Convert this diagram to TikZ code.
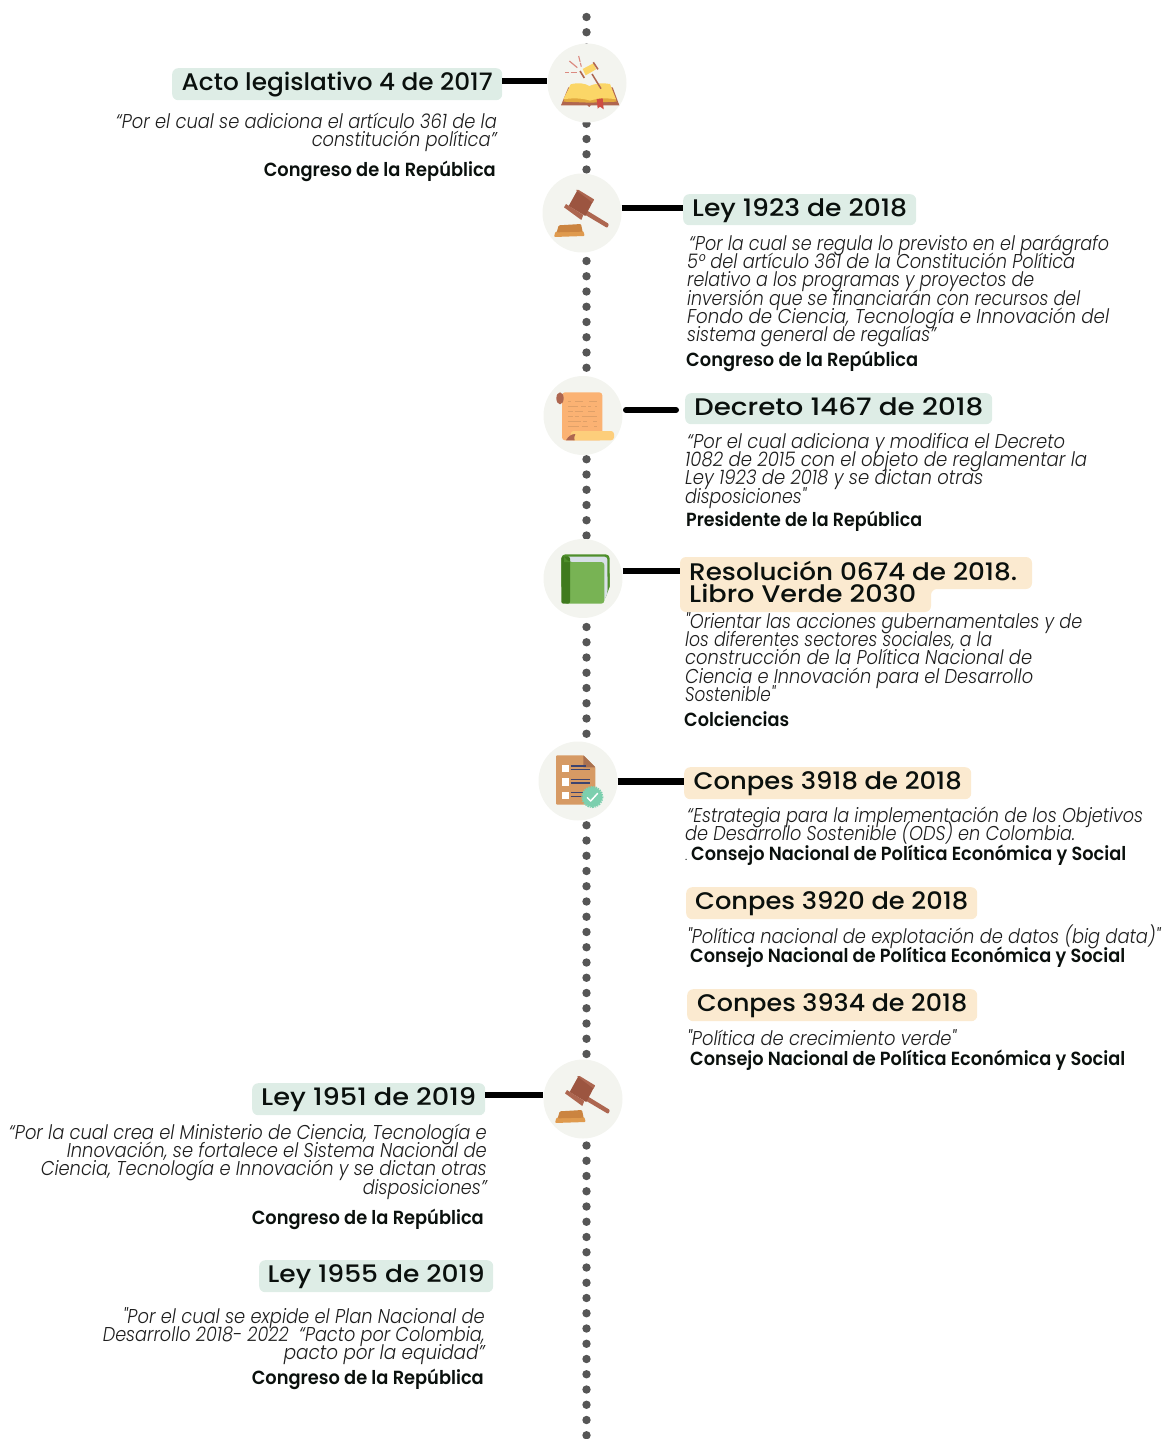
\documentclass[tikz,border=0pt]{standalone}
\usepackage{fontspec}
\usepackage{graphicx}
\setmainfont{Poppins}[Ligatures=TeXOff,UprightFont=* Medium,ItalicFont=* Light Italic]
\newfontfamily\autorfont{Poppins}[Ligatures=TeXOff,UprightFont=* SemiBold]
\lineskiplimit=-100pt\relax
\newcommand{\fl}[2]{\rule{0pt}{18pt}\resizebox{#1pt}{\height}{#2}}
\newcommand{\tl}[2]{\rule[-7pt]{0pt}{27pt}\resizebox{#1pt}{\height}{#2}}
\definecolor{pgreen}{HTML}{DEEDE6}
\definecolor{porange}{HTML}{FBEAD0}
\definecolor{cbg}{HTML}{F3F4EF}
\definecolor{dotc}{HTML}{565656}
\definecolor{ink}{HTML}{0A100D}
\definecolor{soft}{HTML}{1E1E1E}
\definecolor{gvh}{HTML}{9C5540}
\definecolor{gvd}{HTML}{AD6650}
\definecolor{gvo}{HTML}{DF9A4E}
\definecolor{gvp}{HTML}{CB8440}
\definecolor{bkb}{HTML}{B0664F}
\definecolor{bky}{HTML}{FBD667}
\definecolor{bkd}{HTML}{E2A93F}
\definecolor{bkr}{HTML}{CF4C42}
\definecolor{ray}{HTML}{DB8A80}
\definecolor{scb}{HTML}{FBB273}
\definecolor{scy}{HTML}{FDCE7B}
\definecolor{scl}{HTML}{DFA068}
\definecolor{gd}{HTML}{3F7A1E}
\definecolor{gm}{HTML}{4F8F2C}
\definecolor{gl}{HTML}{78B354}
\definecolor{pg}{HTML}{D8E0E8}
\definecolor{doc}{HTML}{D69A64}
\definecolor{docf}{HTML}{A9704F}
\definecolor{docl}{HTML}{3D4470}
\definecolor{chk}{HTML}{7CCFAE}
\tikzset{
  pill/.style={rounded corners=6pt,inner sep=0pt,text=ink,font=\fontsize{24}{24}\selectfont,anchor=north west},
  hoja/.style={circle,fill=cbg,minimum size=79pt,inner sep=0pt},
  conn/.style={line width=6pt,black},
  puntos/.style={dotc,line width=8.4pt,line cap=round,dash pattern=on 0pt off 15.25pt},
  cita/.style={inner sep=0pt,text=soft,align=left,anchor=north west,font=\fontsize{20}{18.35}\selectfont\itshape},
  citar/.style={inner sep=0pt,text=soft,align=right,anchor=north east,font=\fontsize{20}{18.35}\selectfont\itshape},
  autor/.style={inner sep=0pt,text=ink,font=\fontsize{19}{20}\autorfont\selectfont,anchor=base west},
  autorr/.style={inner sep=0pt,text=ink,font=\fontsize{19}{20}\autorfont\selectfont,anchor=base east}
}
\newcommand{\ptitle}[7]{% name, color, x1, y1, w, h, text
  \node[pill,fill=#2,minimum width=#5pt,minimum height=#6pt] (#1) at (#3,#4) {#7};}
\newcommand{\gavelicon}{%
  \fill[gvo,rounded corners=1pt] (162,711) -- (166,695) -- (250,693) -- (254,708) -- cycle;
  \fill[gvp,rounded corners=1pt] (176,676) -- (243,672) -- (248,695) -- (170,697) -- cycle;
  \fill[gvd,rounded corners=1pt] (255,628) -- (327,672) -- (322,684) -- (248,640) -- cycle;
  \fill[gvh] (232,571) -- (281,600) -- (256,648) -- (206,618) -- cycle;
  \fill[gvd] (228,570) -- (236,570) -- (282,598) -- (278,608) -- cycle;
  \fill[gvd] (192,622) -- (198,612) -- (250,645) -- (244,660) -- cycle;
}
\begin{document}
\begin{tikzpicture}[x=1pt,y=-1pt]
\useasboundingbox (0,0) rectangle (1162,1439);
\coordinate (top) at (586.5,17);
\coordinate (bottom) at (586.5,1436);
\draw[puntos] (top) -- (bottom);

% circles
\node[hoja] (c1) at (587,83) {};
\node[hoja] (c2) at (582,213) {};
\node[hoja] (c3) at (583,415.5) {};
\node[hoja] (c4) at (583,578.5) {};
\node[hoja] (c5) at (578,781) {};
\node[hoja] (c6) at (583,1099) {};

% pills
\ptitle{p1}{pgreen}{172}{68}{330}{32}{\tl{311}{Acto legislativo 4 de 2017}}
\ptitle{p2}{pgreen}{683}{194}{233}{31}{\tl{215}{Ley 1923 de 2018}}
\ptitle{p3}{pgreen}{685}{393}{307}{31}{\tl{289}{Decreto 1467 de 2018}}
\fill[porange,rounded corners=6pt] (680,557) -- (1032,557) -- (1032,589) -- (931,589) -- (931,612) -- (680,612) -- cycle;
\node[inner sep=0pt,text=ink,align=left,anchor=north west,font=\fontsize{24}{22.3}\selectfont] (p4) at (689,557)
  {\rule{0pt}{23pt}\resizebox{328pt}{\height}{Resolución 0674 de 2018.}\\\resizebox{227pt}{\height}{Libro Verde 2030}};
\ptitle{p5}{porange}{684}{767}{287}{32}{\tl{268}{Conpes 3918 de 2018}}
\ptitle{p6}{porange}{686}{887}{291}{32}{\tl{273}{Conpes 3920 de 2018}}
\ptitle{p7}{porange}{687}{989}{290}{32}{\tl{270}{Conpes 3934 de 2018}}
\ptitle{p8}{pgreen}{252}{1083}{233}{32}{\tl{215}{Ley 1951 de 2019}}
\ptitle{p9}{pgreen}{259}{1260}{234}{32}{\tl{217}{Ley 1955 de 2019}}

% connectors
\coordinate (k3a) at (626,410);
\coordinate (k3b) at (676,410);
\draw[conn] (p1.east |- 0,81) -- (c1.west |- 0,81);
\draw[conn] (c2.east |- 0,208) -- (p2.west |- 0,208);
\draw[conn,line cap=round] (k3a) -- (k3b);
\draw[conn] (c4.east |- 0,571) -- (680,571);
\draw[conn,line width=7pt] (c5.east |- 0,781) -- (p5.west |- 0,781);
\draw[conn] (p8.east |- 0,1095) -- (c6.west |- 0,1095);

% icon 1: book with gavel
\begin{scope}[shift={(500,0)},scale=1/3]
  \fill[bkb] (183,316) -- (205,262) -- (338,262) -- (358,316) -- (272,316) -- (268,321) -- (262,316) -- cycle;
  \fill[bkd] (190,305) -- (212,256) -- (265,262) -- (330,256) -- (350,305) -- (270,308) -- cycle;
  \fill[bky] (190,298) -- (212,253) .. controls (235,247) and (255,250) .. (268,258) .. controls (285,250) and (310,248) .. (330,252) -- (348,298) .. controls (320,293) and (290,295) .. (270,302) .. controls (250,295) and (220,293) .. (190,298) -- cycle;
  \fill[bkr] (290,297) -- (308,295) -- (311,328) -- (300,320) -- (293,326) -- cycle;
  \draw[gvd,line width=1.5pt] (276,222) -- (303,266);
  \fill[bky] (248,207) -- (280,190) -- (288,208) -- (257,226) -- cycle;
  \draw[bkb,line width=1.6pt] (240,213) -- (253,234);
  \draw[bkb,line width=1.6pt] (280,187) -- (294,208);
  \draw[ray,line width=1.2pt] (208,183) -- (232,203);
  \draw[ray,line width=1.1pt,dash pattern=on 6pt off 1pt] (236,168) -- (244,200);
  \draw[ray,line width=1.1pt] (195,218) -- (207,218) (212,218) -- (230,218);
\end{scope}

% icon 2: gavel
\begin{scope}[shift={(500,0)},scale=1/3]
  \gavelicon
\end{scope}

% icon 3: scroll
\begin{scope}[shift={(500,360)},scale=1/3]
  \fill[scb,rounded corners=3pt] (186,97) rectangle (307,241);
  \fill[gvd] (180,115) ellipse (11 and 18);
  \fill[scy,rounded corners=3pt] (212,213) rectangle (342,241);
  \fill[gvd] (198,241) .. controls (205,228) and (215,222) .. (226,222) .. controls (222,232) and (222,238) .. (224,241) -- cycle;
  \foreach \ya/\xa/\xb in {124/205/212,124/226/250,124/268/292,138/205/234,138/244/258,138/265/272,138/285/292,153/205/218,153/224/250,153/265/285,168/205/218,168/224/236,168/245/292,183/205/242,183/250/260,183/280/292,198/205/238,198/245/265,198/282/292}
    {\draw[scl,line width=1pt] (\xa,\ya) -- (\xb,\ya);}
\end{scope}

% icon 4: green book
\begin{scope}[shift={(500,360)},scale=1/3]
  \fill[gm,rounded corners=4pt] (184,583) rectangle (329,690);
  \fill[gm] (318,640) -- (329,640) -- (329,680) -- (316,715) -- cycle;
  \fill[pg,rounded corners=3pt] (198,590) rectangle (322,700);
  \fill[pg] (300,650) -- (322,650) -- (322,700) -- (312,722) -- (300,722) -- cycle;
  \fill[gl,rounded corners=3pt] (192,606) -- (313,606) -- (313,731) -- (192,731) -- cycle;
  \fill[gd,rounded corners=2pt] (184,590) -- (210,590) -- (210,731) -- (184,731) -- cycle;
  \fill[gm] (192,590) .. controls (200,600) and (205,606) .. (215,606) -- (192,606) -- cycle;
\end{scope}

% icon 5: document
\begin{scope}[shift={(500,730)},scale=1/3]
  \fill[doc,rounded corners=1pt] (168,76) -- (250,76) -- (286,112) -- (286,224) -- (168,224) -- cycle;
  \fill[docf] (250,76) -- (286,112) -- (250,112) -- cycle;
  \fill[white] (185,105) rectangle (207,127);
  \fill[white] (185,145) rectangle (207,167);
  \fill[white] (185,185) rectangle (207,207);
  \draw[docl,line width=1.1pt] (212,108) -- (258,108) (212,119) -- (270,119);
  \draw[docl,line width=1.1pt] (212,148) -- (270,148) (212,159) -- (270,159);
  \draw[docl,line width=1.1pt] (212,188) -- (250,188) (212,199) -- (250,199);
  \fill[chk] (277,201) circle (30);
  \draw[chk,line width=1.1pt,dash pattern=on 1.5pt off 1pt] (277,201) circle (31.5);
  \draw[white,line width=1.5pt,line cap=round,line join=round] (262,203) -- (272,213) -- (293,190);
\end{scope}

% icon 6: gavel
\begin{scope}[shift={(501,886)},scale=1/3]
  \gavelicon
\end{scope}

% text blocks
\node[citar] (t1) at (497,110) {\fl{381}{“Por el cual se adiciona el artículo 361 de la}\\\fl{185}{constitución política”}};
\node[autorr] (a1) at (496,177) {\resizebox{232pt}{\height}{Congreso de la República}};

\node[cita] (t2) at (687,232) {\hspace{2pt}\fl{420}{“Por la cual se regula lo previsto en el parágrafo}\\\fl{388}{5° del artículo 361 de la Constitución Política}\\\fl{347}{relativo a los programas y proyectos de}\\\fl{393}{inversión que se financiarán con recursos del}\\\fl{422}{Fondo de Ciencia, Tecnología e Innovación del}\\\fl{249}{sistema general de regalías”}};
\node[autor] (a2) at (686,366) {\resizebox{232pt}{\height}{Congreso de la República}};

\node[cita] (t3) at (685,430) {\hspace{2pt}\fl{378}{“Por el cual adiciona y modifica el Decreto}\\\fl{402}{1082 de 2015 con el objeto de reglamentar la}\\\fl{298}{Ley 1923 de 2018 y se dictan otras}\\\fl{121}{disposiciones"}};
\node[autor] (a3) at (686,526) {\resizebox{236pt}{\height}{Presidente de la República}};

\node[cita] (t4) at (685,610) {\fl{397}{"Orientar las acciones gubernamentales y de}\\\fl{307}{los diferentes sectores sociales, a la}\\\fl{347}{construcción de la Política Nacional de}\\\fl{348}{Ciencia e Innovación para el Desarrollo}\\\fl{90}{Sostenible"}};
\node[autor] (a4) at (684,726) {\resizebox{105pt}{\height}{Colciencias}};

\node[cita] (t5) at (685,804) {\hspace{2pt}\fl{456}{“Estrategia para la implementación de los Objetivos}\\\fl{390}{de Desarrollo Sostenible (ODS) en Colombia.}};
\node[autor,font=\fontsize{9}{10}\selectfont] (dot5) at (685,860) {.};
\node[autor] (a5) at (691,860) {\resizebox{435pt}{\height}{Consejo Nacional de Política Económica y Social}};

\node[cita] (t6) at (687,925) {\fl{473}{"Política nacional de explotación de datos (big data)"}};
\node[autor] (a6) at (690,962) {\resizebox{435pt}{\height}{Consejo Nacional de Política Económica y Social}};

\node[cita] (t7) at (687,1027) {\fl{269}{"Política de crecimiento verde"}};
\node[autor] (a7) at (690,1065) {\resizebox{435pt}{\height}{Consejo Nacional de Política Económica y Social}};

\node[citar] (t8) at (487,1121) {\fl{478}{“Por la cual crea el Ministerio de Ciencia, Tecnología e}\\\fl{420}{Innovación, se fortalece el Sistema Nacional de}\\\fl{446}{Ciencia, Tecnología e Innovación y se dictan otras}\\\fl{124}{disposiciones”}};
\node[autorr] (a8) at (484,1224) {\resizebox{232pt}{\height}{Congreso de la República}};

\node[citar] (t9) at (485,1305) {\fl{362}{"Por el cual se expide el Plan Nacional de}\\\fl{382}{Desarrollo 2018- 2022~ “Pacto por Colombia,}\\\fl{201}{pacto por la equidad”}};
\node[autorr] (a9) at (484,1384) {\resizebox{232pt}{\height}{Congreso de la República}};
\end{tikzpicture}
\end{document}
